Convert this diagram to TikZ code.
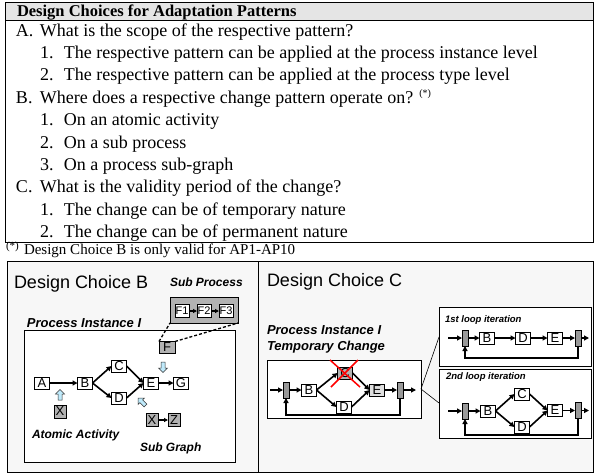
\documentclass[tikz,border=0pt]{standalone}
\usepackage{fontspec}
\setmainfont{Liberation Serif}
\setsansfont{Liberation Sans}
\usetikzlibrary{arrows.meta,calc}
\newcommand{\blkarrow}[3]{\draw[blk, shift={(#1,#2)}, rotate=#3] (-5,-2) -- (1,-2) -- (1,-4.5) -- (5.5,0) -- (1,4.5) -- (1,2) -- (-5,2) -- cycle;}
\begin{document}
\begin{tikzpicture}[x=1pt,y=-1pt,
  every node/.style={inner sep=0pt, outer sep=0pt},
  serif/.style={font=\fontsize{18}{20}\selectfont, anchor=base west},
  act/.style={draw=black, fill=white, line width=0.8pt, minimum width=15pt, minimum height=12pt, font=\sffamily\fontsize{13}{13}\selectfont},
  gact/.style={act, fill=gray!60},
  sact/.style={act, minimum width=14pt, minimum height=13pt, font=\sffamily\fontsize{11}{11}\selectfont},
  bar/.style={draw=black, fill=gray!80, line width=0.6pt, minimum width=6pt, minimum height=16pt},
  flow/.style={line width=1.6pt, -{Triangle[length=5pt,width=5pt]}},
  sflow/.style={line width=1.2pt, -{Triangle[length=4pt,width=4pt]}},
  lbl/.style={font=\sffamily\bfseries\itshape\fontsize{13}{13}\selectfont, anchor=base west},
  slbl/.style={font=\sffamily\bfseries\itshape\fontsize{12}{12}\selectfont, anchor=base west},
  tlbl/.style={font=\sffamily\bfseries\itshape\fontsize{9.5}{9.5}\selectfont, anchor=base west},
  head/.style={font=\sffamily\fontsize{18}{18}\selectfont, anchor=base west},
  blk/.style={draw=black!80, fill=cyan!25!white, line width=0.5pt},
  cont/.style={draw=black, fill=white, line width=0.8pt}
]
\useasboundingbox (0,0) rectangle (595,475);
\fill[white] (0,0) rectangle (595,475);

% ---------- top text box ----------
\draw[line width=1pt, fill=gray!20] (5,2) rectangle (593,20);
\draw[line width=1pt] (5,2) rectangle (593,242);
\node[anchor=base west, font=\bfseries\fontsize{16.5}{18}\selectfont] (title) at (17,16) {Design Choices for Adaptation Patterns};
\node[serif] (qa) at (16,36) {\makebox[24pt][l]{A.}What is the scope of the respective pattern?};
\node[serif] (a1) at (40,58.4) {\makebox[24pt][l]{1.}The respective pattern can be applied at the process instance level};
\node[serif] (a2) at (40,80.8) {\makebox[24pt][l]{2.}The respective pattern can be applied at the process type level};
\node[serif] (qb) at (16,103.2) {\makebox[24pt][l]{B.}Where does a respective change pattern operate on? \raisebox{7pt}{\fontsize{10}{10}\selectfont(*)}};
\node[serif] (b1) at (40,125.6) {\makebox[24pt][l]{1.}On an atomic activity};
\node[serif] (b2) at (40,148) {\makebox[24pt][l]{2.}On a sub process};
\node[serif] (b3) at (40,170.4) {\makebox[24pt][l]{3.}On a process sub-graph};
\node[serif] (qc) at (16,192.8) {\makebox[24pt][l]{C.}What is the validity period of the change?};
\node[serif] (c1) at (40,215.2) {\makebox[24pt][l]{1.}The change can be of temporary nature};
\node[serif] (c2) at (40,237.6) {\makebox[24pt][l]{2.}The change can be of permanent nature};

% footnote
\node[anchor=base west, font=\fontsize{11}{11}\selectfont] (fnm) at (6,249.5) {(*)};
\node[anchor=base west, font=\fontsize{15}{15}\selectfont] (fn) at (24,254.5) {Design Choice B is only valid for AP1-AP10};

% ---------- bottom panels ----------
\draw[line width=1pt, fill=gray!6] (7,261) rectangle (258,472);
\draw[line width=1pt, fill=gray!6] (258,261) rectangle (593,472);

% ===== Design Choice B =====
\node[head] (hb) at (14,288.5) {Design Choice B};
\node[slbl] (lsub) at (170,286) {Sub Process};
\node[draw=black, fill=gray!60, line width=0.8pt, minimum width=68pt, minimum height=26pt] (sub) at (204,310) {};
\node[sact] (F1) at (182,311) {F1};
\node[sact] (F2) at (204,311) {F2};
\node[sact] (F3) at (226,311) {F3};
\draw[sflow] (F1) -- (F2);
\draw[sflow] (F2) -- (F3);

\node[lbl] (lpi) at (27,327) {Process Instance I};
\draw[cont] (24,330) rectangle (235,462);

\node[act] (A) at (42,383) {A};
\node[act] (B) at (85,383) {B};
\node[act] (C) at (119,366) {C};
\node[act] (D) at (119,398) {D};
\node[act] (E) at (151,383) {E};
\node[act] (G) at (181,383) {G};
\node[gact, minimum width=16pt, minimum height=12pt] (F) at (167,347.5) {F};
\node[gact, minimum width=12pt, minimum height=13pt] (X) at (60,411.5) {X};
\node[gact, minimum width=12pt, minimum height=13pt] (X2) at (152,420) {X};
\node[gact, minimum width=12pt, minimum height=13pt] (Z) at (174,420) {Z};

\draw[flow] (A) -- (B);
\draw[flow] (B.east) -- (C.west);
\draw[flow] (B.east) -- (D.west);
\draw[flow] (C.east) -- (E.west);
\draw[flow] (D.east) -- (E.west);
\draw[flow] (E) -- (G);
\draw[sflow] (X2) -- (Z);
\draw[line width=1.3pt, dash pattern=on 3pt off 2pt] (F.north west) -- (sub.south west);
\draw[line width=1.3pt, dash pattern=on 3pt off 2pt] (F.north east) -- (sub.south east);

\blkarrow{60}{395}{90}
\blkarrow{163}{367}{-90}
\blkarrow{142}{402}{135}

\node[slbl] (lat) at (32,438) {Atomic Activity};
\node[slbl] (lsg) at (140,451) {Sub Graph};

% ===== Design Choice C =====
\node[head] (hc) at (267,286.5) {Design Choice C};
\node[lbl] (lpc1) at (267,334.5) {Process Instance I};
\node[lbl] (lpc2) at (267,350.5) {Temporary Change};
\draw[cont] (267,360) rectangle (421,418);

\coordinate (mi) at (270,390);
\node[bar] (mLB) at (286,390) {};
\node[act] (mB) at (309,390) {B};
\node[gact] (mC) at (345,373) {C};
\node[act] (mD) at (344,407) {D};
\node[act, fill=gray!25] (mE) at (377,390) {E};
\node[bar] (mRB) at (400,390) {};
\coordinate (mo) at (416,390);
\draw[flow] (mi) -- (mLB.west);
\draw[flow] (mLB.east) -- (mB.west);
\draw[flow] (mB.east) -- (mC.west);
\draw[flow] (mB.east) -- (mD.west);
\draw[flow] (mC.east) -- (mE.west);
\draw[flow] (mD.east) -- (mE.west);
\draw[flow] (mE.east) -- (mRB.west);
\draw[flow] (mRB.east) -- (mo);
\draw[flow] (mRB.south) -- (400,415) -| (mLB.south);
\draw[red, line width=1.5pt] (mC.center) ++(-15,-13) -- ++(30,27);
\draw[red, line width=1.5pt] (mC.center) ++(13,-13) -- ++(-27,27);

% loop boxes
\draw[cont] (439,307) rectangle (591,366);
\draw[cont] (439,369) rectangle (591,438);
\coordinate (sp) at (421,389);
\coordinate (l1) at (439,337);
\coordinate (l2) at (439,403);
\draw[line width=0.6pt] (sp) -- (l1);
\draw[line width=0.6pt] (sp) -- (l2);

\node[tlbl] (t1) at (445,322.5) {1st loop iteration};
\coordinate (i1) at (448,338);
\node[bar] (aLB) at (465,338) {};
\node[act] (aB) at (487,338) {B};
\node[act] (aD) at (523,338) {D};
\node[act] (aE) at (555,338) {E};
\node[bar] (aRB) at (578,338) {};
\coordinate (o1) at (589,338);
\draw[flow] (i1) -- (aLB.west);
\draw[flow] (aLB.east) -- (aB.west);
\draw[flow] (aB.east) -- (aD.west);
\draw[flow] (aD.east) -- (aE.west);
\draw[flow] (aE.east) -- (aRB.west);
\draw[flow] (aRB.east) -- (o1);
\draw[flow] (aRB.south) -- (578,358) -| (aLB.south);

\node[tlbl] (t2) at (446,379.5) {2nd loop iteration};
\coordinate (i2) at (448,411);
\node[bar] (bLB) at (465,411) {};
\node[act] (bB) at (488,411) {B};
\node[act] (bC) at (522,394) {C};
\node[act] (bD) at (522,427) {D};
\node[act] (bE) at (555,410.5) {E};
\node[bar] (bRB) at (578,410.5) {};
\coordinate (o2) at (589,410.5);
\draw[flow] (i2) -- (bLB.west);
\draw[flow] (bLB.east) -- (bB.west);
\draw[flow] (bB.east) -- (bC.west);
\draw[flow] (bB.east) -- (bD.west);
\draw[flow] (bC.east) -- (bE.west);
\draw[flow] (bD.east) -- (bE.west);
\draw[flow] (bE.east) -- (bRB.west);
\draw[flow] (bRB.east) -- (o2);
\draw[flow] (bRB.south) -- (578,435) -| (bLB.south);
\end{tikzpicture}
\end{document}
